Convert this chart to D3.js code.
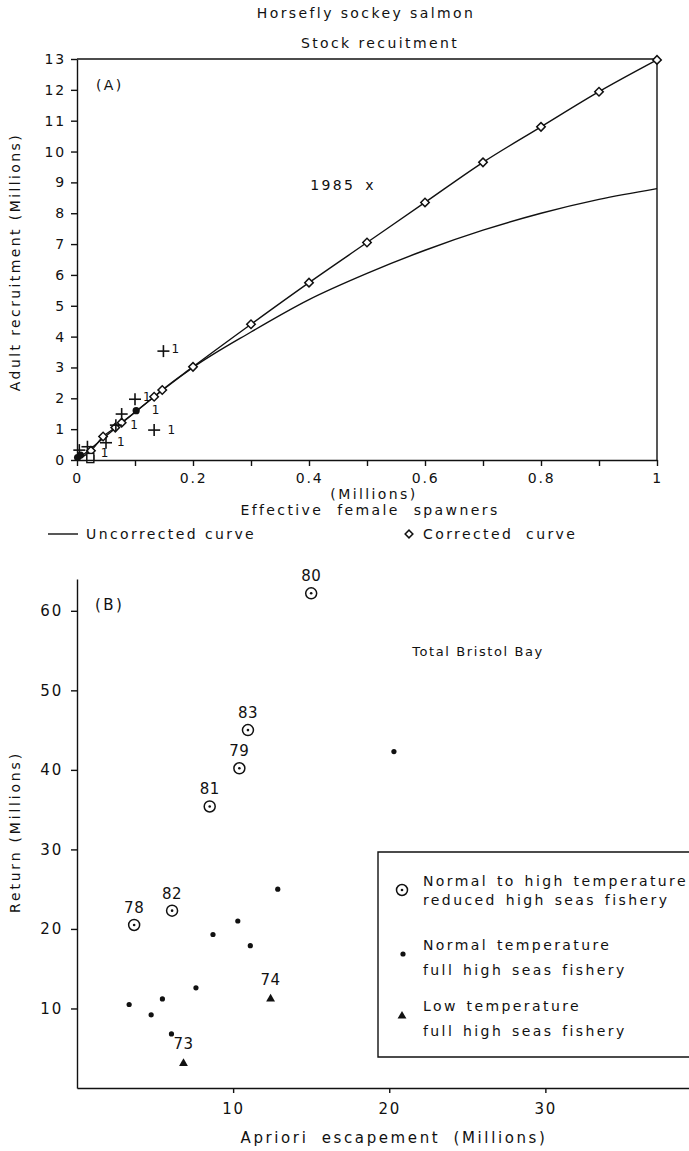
<!DOCTYPE html>
<html>
<head>
<meta charset="utf-8">
<script src="https://cdn.jsdelivr.net/npm/d3@7/dist/d3.min.js"></script>
<style>
  body { margin: 0; background: #fff; }
  svg text { font-family: "DejaVu Sans", sans-serif; fill: #111; letter-spacing: 2.4px; }
  .axis path, .axis line { stroke: #111; stroke-width: 1.4; }
  .axis text { font-size: 14px; letter-spacing: 1.8px; }
</style>
</head>
<body>
<script>
// ---- panel A: Horsefly sockey salmon, stock recruitment ----
var correctedX = [0, 0.024, 0.045, 0.066, 0.077, 0.133, 0.147, 0.2, 0.3, 0.4, 0.5, 0.6, 0.7, 0.8, 0.9, 1.0];
var correctedY = [0, 0.30, 0.76, 1.05, 1.21, 2.05, 2.27, 3.02, 4.4, 5.75, 7.05, 8.35, 9.65, 10.8, 11.94, 12.97];
var uncorrectedX = [0, 0.05, 0.1, 0.15, 0.2, 0.3, 0.4, 0.5, 0.6, 0.7, 0.8, 0.9, 1.0];
var uncorrectedY = [0, 0.78, 1.55, 2.3, 3.0, 4.15, 5.2, 6.05, 6.8, 7.45, 8.0, 8.45, 8.8];
var plusX = [0.004, 0.018, 0.05, 0.067, 0.077, 0.1, 0.133, 0.149];
var plusY = [0.32, 0.43, 0.56, 1.13, 1.49, 1.97, 0.97, 3.53];
var oneX = [0.163, 0.114, 0.129, 0.092, 0.156, 0.069, 0.041];
var oneY = [3.6, 2.05, 1.62, 1.12, 0.97, 0.58, 0.22];
var filledX = [0.102, 0.001, 0.006];
var filledY = [1.6, 0.08, 0.16];
var squareX = [0.023, 0.023];
var squareY = [0.03, 0.1];
var yTicksA = d3.range(0, 14);
var xTicksA = d3.range(0, 11).map(function (d) { return d / 10; });

// ---- panel B: Total Bristol Bay ----
var reducedYear = ["78", "82", "81", "79", "83", "80"];
var reducedX = [3.66, 6.09, 8.5, 10.4, 10.95, 15.0];
var reducedY = [20.5, 22.3, 35.4, 40.2, 45.0, 62.2];
var normalX = [3.34, 4.75, 5.47, 6.05, 7.62, 8.71, 10.3, 11.1, 12.86, 20.3];
var normalY = [10.5, 9.2, 11.2, 6.8, 12.6, 19.3, 21.0, 17.9, 25.0, 42.3];
var lowYear = ["73", "74"];
var lowX = [6.82, 12.4];
var lowY = [3.1, 11.2];
var yTicksB = [10, 20, 30, 40, 50, 60];
var xTicksB = [10, 20, 30];

var W = 689, H = 1151;
var svg = d3.select("body").append("svg").attr("width", W).attr("height", H);
svg.append("rect").attr("width", W).attr("height", H).attr("fill", "#fff");

// ================= panel A =================
var xA = d3.scaleLinear().domain([0, 1]).range([77, 657]);
var yA = d3.scaleLinear().domain([0, 13]).range([460, 59]);
var gA = svg.append("g");

gA.append("text").attr("x", 366).attr("y", 18).attr("text-anchor", "middle")
  .style("font-size", "14px").text("Horsefly sockey salmon");
gA.append("text").attr("x", 380).attr("y", 48).attr("text-anchor", "middle")
  .style("font-size", "14px").text("Stock recuitment");

// frame top / right
gA.append("line").attr("x1", xA(0)).attr("x2", xA(1)).attr("y1", yA(13)).attr("y2", yA(13))
  .attr("stroke", "#111").attr("stroke-width", 1.4);
gA.append("line").attr("x1", xA(1)).attr("x2", xA(1)).attr("y1", yA(13)).attr("y2", yA(0))
  .attr("stroke", "#111").attr("stroke-width", 1.4);

gA.append("g").attr("class", "axis").attr("transform", "translate(" + xA(0) + ",0)")
  .call(d3.axisLeft(yA).tickValues(yTicksA).tickSize(6).tickSizeOuter(0).tickPadding(5));
gA.append("g").attr("class", "axis").attr("transform", "translate(0," + yA(0) + ")")
  .call(d3.axisBottom(xA).tickValues(xTicksA).tickSize(6).tickSizeOuter(0).tickPadding(7)
    .tickFormat(function (d, i) { return i % 2 ? "" : d3.format("~g")(d); }));

gA.append("text").attr("transform", "translate(20,262) rotate(-90)").attr("text-anchor", "middle")
  .style("font-size", "14px").text("Adult recruitment (Millions)");
gA.append("text").attr("x", 374).attr("y", 499).attr("text-anchor", "middle")
  .style("font-size", "14px").text("(Millions)");
gA.append("text").attr("x", 370).attr("y", 515).attr("text-anchor", "middle")
  .style("font-size", "14px").style("word-spacing", "7px").text("Effective female spawners");
gA.append("text").attr("x", 96).attr("y", 90).style("font-size", "14px").text("(A)");

var lineA = d3.line().x(function (d) { return xA(d[0]); }).y(function (d) { return yA(d[1]); })
  .curve(d3.curveMonotoneX);
gA.append("path").datum(d3.zip(uncorrectedX, uncorrectedY)).attr("d", lineA)
  .attr("fill", "none").attr("stroke", "#111").attr("stroke-width", 1.4);
gA.append("path").datum(d3.zip(correctedX, correctedY)).attr("d", lineA)
  .attr("fill", "none").attr("stroke", "#111").attr("stroke-width", 1.4);

var diamond = d3.symbol().type(d3.symbolSquare).size(36);
gA.selectAll(".dia").data(d3.zip(correctedX, correctedY).slice(1)).enter().append("path")
  .attr("d", diamond)
  .attr("transform", function (d) { return "translate(" + xA(d[0]) + "," + yA(d[1]) + ") rotate(45)"; })
  .attr("fill", "#fff").attr("stroke", "#111").attr("stroke-width", 1.5);

gA.selectAll(".plus").data(d3.zip(plusX, plusY)).enter().append("g")
  .attr("transform", function (d) { return "translate(" + xA(d[0]) + "," + yA(d[1]) + ")"; })
  .each(function () {
    var g = d3.select(this);
    g.append("line").attr("x1", -6).attr("x2", 6).attr("stroke", "#111").attr("stroke-width", 1.6);
    g.append("line").attr("y1", -6).attr("y2", 6).attr("stroke", "#111").attr("stroke-width", 1.6);
  });
gA.selectAll(".one").data(d3.zip(oneX, oneY)).enter().append("text")
  .attr("x", function (d) { return xA(d[0]); }).attr("y", function (d) { return yA(d[1]) + 4; })
  .style("font-size", "12px").text("1");
gA.selectAll(".fill").data(d3.zip(filledX, filledY)).enter().append("circle")
  .attr("cx", function (d) { return xA(d[0]); }).attr("cy", function (d) { return yA(d[1]); })
  .attr("r", 3.6).attr("fill", "#111");
gA.selectAll(".sq").data(d3.zip(squareX, squareY)).enter().append("rect")
  .attr("x", function (d) { return xA(d[0]) - 3.5; }).attr("y", function (d) { return yA(d[1]) - 3.5; })
  .attr("width", 7).attr("height", 7).attr("fill", "#fff").attr("stroke", "#111").attr("stroke-width", 1.4);

gA.append("text").attr("x", xA(0.402)).attr("y", yA(8.75)).style("font-size", "14px")
  .style("word-spacing", "3px").text("1985 x");

// legend A
gA.append("line").attr("x1", 48).attr("x2", 78).attr("y1", 534).attr("y2", 534)
  .attr("stroke", "#111").attr("stroke-width", 1.4);
gA.append("text").attr("x", 86).attr("y", 539).style("font-size", "14px").text("Uncorrected curve");
gA.append("path").attr("d", d3.symbol().type(d3.symbolSquare).size(30))
  .attr("transform", "translate(409,534) rotate(45)")
  .attr("fill", "#fff").attr("stroke", "#111").attr("stroke-width", 1.5);
gA.append("text").attr("x", 423).attr("y", 539).style("font-size", "14px")
  .style("word-spacing", "6px").text("Corrected curve");

// ================= panel B =================
var xB = d3.scaleLinear().domain([0, 39.2]).range([77, 689]);
var yB = d3.scaleLinear().domain([0, 64]).range([1088, 579]);
var gB = svg.append("g");

gB.append("g").attr("class", "axis").attr("transform", "translate(" + xB(0) + ",0)")
  .call(d3.axisLeft(yB).tickValues(yTicksB).tickSize(6).tickSizeOuter(0).tickPadding(8));
gB.append("g").attr("class", "axis").attr("transform", "translate(0," + yB(0) + ")")
  .call(d3.axisBottom(xB).tickValues(xTicksB).tickSize(5).tickSizeOuter(0).tickPadding(10));
gB.selectAll(".axis text").style("font-size", "15px");

gB.append("text").attr("transform", "translate(20,832) rotate(-90)").attr("text-anchor", "middle")
  .style("font-size", "14px").style("letter-spacing", "2.8px").text("Return (Millions)");
gB.append("text").attr("x", 394).attr("y", 1143).attr("text-anchor", "middle")
  .style("font-size", "15px").style("letter-spacing", "2.6px").style("word-spacing", "6px")
  .text("Apriori escapement (Millions)");
gB.append("text").attr("x", 95).attr("y", 610).style("font-size", "15px").text("(B)");
gB.append("text").attr("x", 478).attr("y", 656).attr("text-anchor", "middle")
  .style("font-size", "13px").style("letter-spacing", "1.6px").text("Total Bristol Bay");

function circDot(sel) {
  sel.append("circle").attr("r", 5.5).attr("fill", "#fff").attr("stroke", "#111").attr("stroke-width", 1.5);
  sel.append("circle").attr("r", 1.3).attr("fill", "#111");
}
var tri = d3.symbol().type(d3.symbolTriangle).size(34);

var red = gB.selectAll(".red").data(d3.zip(reducedX, reducedY, reducedYear)).enter().append("g")
  .attr("transform", function (d) { return "translate(" + xB(d[0]) + "," + yB(d[1]) + ")"; });
circDot(red);
red.append("text").attr("y", -12).attr("text-anchor", "middle").style("font-size", "15px")
  .style("letter-spacing", "0.5px").text(function (d) { return d[2]; });

gB.selectAll(".nrm").data(d3.zip(normalX, normalY)).enter().append("circle")
  .attr("cx", function (d) { return xB(d[0]); }).attr("cy", function (d) { return yB(d[1]); })
  .attr("r", 2.6).attr("fill", "#111");

var low = gB.selectAll(".low").data(d3.zip(lowX, lowY, lowYear)).enter().append("g")
  .attr("transform", function (d) { return "translate(" + xB(d[0]) + "," + yB(d[1]) + ")"; });
low.append("path").attr("d", tri).attr("fill", "#111");
low.append("text").attr("y", -14).attr("text-anchor", "middle").style("font-size", "15px")
  .style("letter-spacing", "0.5px").text(function (d) { return d[2]; });

// legend B
gB.append("path").attr("d", "M690,852H378V1057H690").attr("fill", "none")
  .attr("stroke", "#111").attr("stroke-width", 1.4);
var lg1 = gB.append("g").attr("transform", "translate(402,890)");
circDot(lg1);
gB.append("circle").attr("cx", 403).attr("cy", 954).attr("r", 2.6).attr("fill", "#111");
gB.append("path").attr("d", tri).attr("transform", "translate(402,1016)").attr("fill", "#111");
var legTexts = [["Normal to high temperature", 886], ["reduced high seas fishery", 905],
  ["Normal temperature", 950], ["full high seas fishery", 975],
  ["Low temperature", 1011], ["full high seas fishery", 1036]];
legTexts.forEach(function (t) {
  gB.append("text").attr("x", 423).attr("y", t[1]).style("font-size", "14px")
    .style("word-spacing", "2px").text(t[0]);
});
</script>
</body>
</html>
